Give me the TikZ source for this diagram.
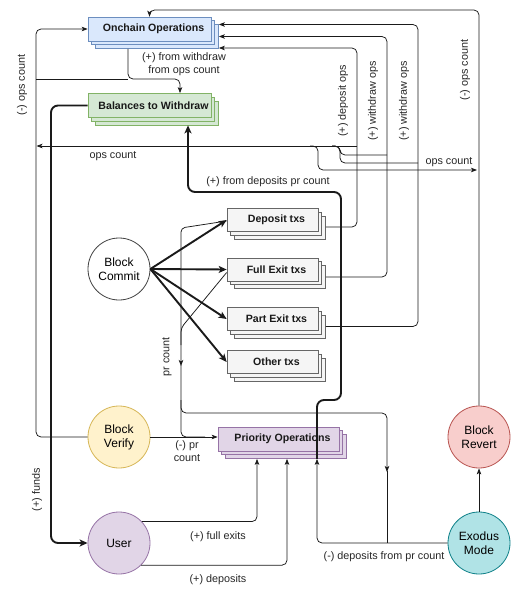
\documentclass[tikz,border=0pt]{standalone}
\usepackage{fontspec}
\setmainfont{Liberation Sans}
\usetikzlibrary{shadows,arrows.meta,calc}
\definecolor{bluefill}{HTML}{DAE8FC}
\definecolor{bluedraw}{HTML}{6C8EBF}
\definecolor{greenfill}{HTML}{D5E8D4}
\definecolor{greendraw}{HTML}{82B366}
\definecolor{grayfill}{HTML}{F5F5F5}
\definecolor{graydraw}{HTML}{666666}
\definecolor{yellowfill}{HTML}{FFF2CC}
\definecolor{yellowdraw}{HTML}{D6B656}
\definecolor{purplefill}{HTML}{E1D5E7}
\definecolor{purpledraw}{HTML}{9673A6}
\definecolor{redfill}{HTML}{F8CECC}
\definecolor{reddraw}{HTML}{B85450}
\definecolor{tealfill}{HTML}{B0E3E6}
\definecolor{tealdraw}{HTML}{0E8088}
\definecolor{linecol}{HTML}{1A1A1A}
\newcommand{\boxfont}{\fontsize{10.6}{12}\selectfont\bfseries}
\newcommand{\circfont}{\fontsize{12}{14}\selectfont}
\newcommand{\lblfont}{\fontsize{10.8}{12.5}\selectfont}
\begin{document}
\begin{tikzpicture}[x=1pt,y=-1pt,
  opbox/.style 2 args={rectangle, draw=#2, fill=#1, line width=0.7pt,
    minimum width=123pt, minimum height=24pt, inner sep=0pt, font=\boxfont,
    text=black!90, execute at begin node=\hspace{8pt},
    double copy shadow={shadow xshift=3.75pt, shadow yshift=-3.75pt, fill=#1, draw=#2, line width=0.7pt}},
  txbox/.style={opbox={grayfill}{graydraw}, minimum width=91pt, minimum height=23pt},
  circ/.style 2 args={circle, draw=#2, fill=#1, line width=0.8pt, minimum size=62pt,
    inner sep=0pt, align=center, font=\circfont},
  wire/.style={draw=linecol, line width=0.75pt, rounded corners=5pt},
  conn/.style={wire, -{Stealth[length=6pt,width=4.5pt,inset=1.5pt]}},
  thickwire/.style={draw=linecol, line width=1.9pt, rounded corners=7pt},
  thickconn/.style={thickwire, -{Stealth[length=8pt,width=7pt,inset=2pt]}},
  lbl/.style={font=\lblfont, text=black!85, inner sep=1pt, align=center}
]
\useasboundingbox[fill=white] (0,0) rectangle (522,596);

% boxes
\node[opbox={bluefill}{bluedraw}] (onchain) at (149.5,29) {Onchain Operations};
\node[opbox={greenfill}{greendraw}] (bal) at (149.5,105.5) {Balances to Withdraw};
\node[txbox] (dep) at (272.5,220) {Deposit txs};
\node[txbox] (full) at (272.5,269.5) {Full Exit txs};
\node[txbox] (part) at (272.5,319) {Part Exit txs};
\node[txbox] (other) at (272.5,362) {Other txs};
\node[opbox={purplefill}{purpledraw}, minimum width=121pt] (prio) at (278.5,439) {Priority Operations};

% circles
\node[circ={white}{black!75}] (commit) at (119,269) {Block\\Commit};
\node[circ={yellowfill}{yellowdraw}] (verify) at (119,437) {Block\\Verify};
\node[circ={purplefill}{purpledraw}] (user) at (119,543) {User};
\node[circ={redfill}{reddraw}] (revert) at (479,437) {Block\\Revert};
\node[circ={tealfill}{tealdraw}] (exodus) at (479,543) {Exodus\\Mode};

% Block Verify -> Onchain Operations
\draw[conn] (verify.west) -| (36,29) -- (onchain.west);
\node[lbl, rotate=90] (lopsleft) at (22,85) {(-) ops count};
\draw[wire] (36,79) -- (128,79);
\draw[conn] ($(onchain.south)+(-21.5,7.5)$) |- (180,79) -- ($(bal.north)+(30.5,0)$);
\node[lbl] (lwithdraw) at (184,64) {(+) from withdraw\\from ops count};

% ops count (left)
\draw[conn] (357,146) -- (36.5,146);
\node[lbl] (lopsmid) at (113,156) {ops count};

% txs -> Onchain Operations
\draw[conn] ($(dep.east)+(7.5,7)$) -| (357,48) -- ($(onchain.east)+(7.5,19)$);
\draw[conn] ($(full.east)+(7.5,7.5)$) -| (387,36.5) -- ($(onchain.east)+(7.5,7.5)$);
\draw[conn] ($(part.east)+(7.5,7.5)$) -| (418,24.5) -- ($(onchain.east)+(7.5,-4.5)$);
\node[lbl, rotate=90] (ldepops) at (343,101) {(+) deposit ops};
\node[lbl, rotate=90] (lwops1) at (373,101) {(+) withdraw ops};
\node[lbl, rotate=90] (lwops2) at (404,101) {(+) withdraw ops};

% Block Revert -> Onchain Operations
\draw[conn] (revert.north) |- (149.5,10) -- (onchain.north);
\node[lbl, rotate=90] (lrevops) at (465,70) {(-) ops count};

% ops count branches
\draw[wire] (332,146) -- (340,146) -- (340,155) -- (387,155);
\draw[wire] (332,146) -- (340,146) -- (340,163) -- (418,163);
\draw[conn] (310,146) -- (318,146) -- (318,170) -- (477,170);
\node[lbl] (lopsright) at (449,162) {ops count};

% Priority Operations -> Balances to Withdraw (thick)
\draw[thickconn] ($(prio.south)+(38.5,7.5)$) -- (317,400) -- (341,400) -- (341,192) -- (188,192) -- ($(bal.south)+(38.5,7.5)$);
\node[lbl] (ldeppr) at (268,182) {(+) from deposits pr count};

% Balances -> User (thick)
\draw[thickconn] (bal.west) -| (51,543) -- (user.west);
\node[lbl, rotate=90] (lfunds) at (37,490) {(+) funds};

% Block Commit -> txs
\draw[thickconn] (commit.east) -- (dep.west);
\draw[thickconn] (commit.east) -- (full.west);
\draw[thickconn] (commit.east) -- (part.west);
\draw[thickconn] (commit.east) -- (other.west);

% pr count
\draw[conn, rounded corners=4pt] ([yshift=-1pt]dep.west) -- (181,228) -- (181,366);
\draw[wire, rounded corners=4pt] ([yshift=-3pt]full.west) -- (181,328) -- (181,345);
\draw[wire] (181,365) -- (181,437) -- (205,437);
\node[lbl, rotate=90] (lprcount) at (167,357) {pr count};
\draw[conn] (181,400) -- (181,413) -- (387,413) -- (387,472);
\draw[wire] (387,471) -- (387,543);

% Block Verify -> Priority Operations
\draw[conn] (verify.east) -- (verify.east -| prio.west);
\node[lbl] (lprverify) at (187,451) {(-) pr\\count};

% User -> Priority Operations
\draw[conn] (user.43) -| ($(prio.south)+(-21.5,7.5)$);
\node[lbl] (lfull) at (218,537) {(+) full exits};
\draw[conn] (user.-45) -| ($(prio.south)+(8.5,7.5)$);
\node[lbl] (ldeposits) at (218,580) {(+) deposits};

% Exodus Mode -> Priority Operations
\draw[conn] (exodus.west) -| ($(prio.south)+(38.5,7.5)$);
\node[lbl] (lexodus) at (384,557) {(-) deposits from pr count};

% Exodus Mode -> Block Revert
\draw[conn] (exodus.north) -- (revert.south);
\end{tikzpicture}
\end{document}
